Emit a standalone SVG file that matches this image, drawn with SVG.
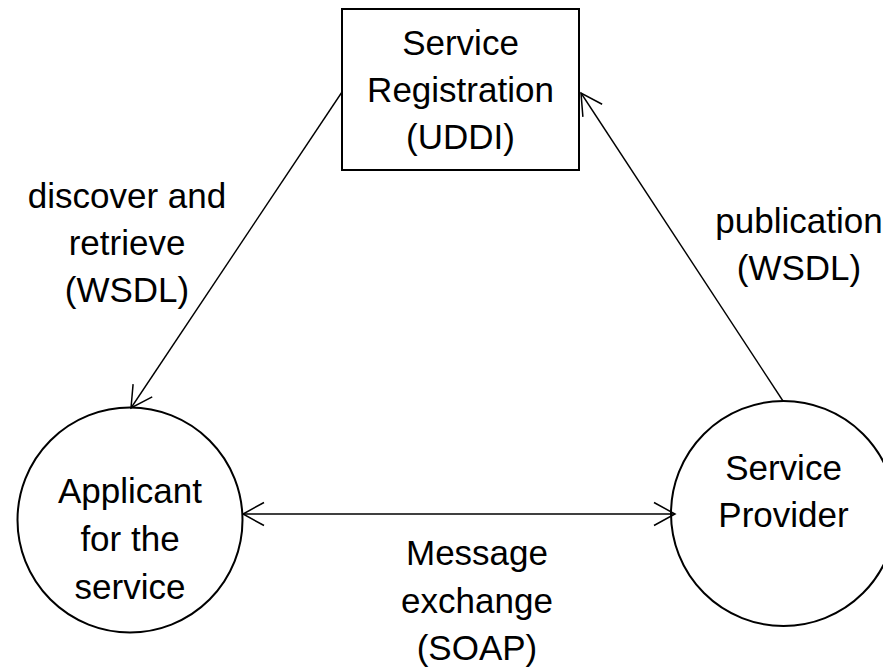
<svg xmlns="http://www.w3.org/2000/svg" width="883" height="669" viewBox="0 0 883 669">
<style>
text{font-family:"Liberation Sans",Arial,sans-serif;font-size:35px;fill:#000;text-anchor:middle}
.node{fill:#fff;stroke:#000;stroke-width:2}
.edge{fill:none;stroke:#000;stroke-width:1.4}
</style>
<defs>
<marker id="arr" markerUnits="userSpaceOnUse" markerWidth="30" markerHeight="30" viewBox="-25 -15 30 30" refX="0" refY="0" orient="auto-start-reverse" overflow="visible">
<path d="M-21,-11.5 L0,0 L-21,11.5" fill="none" stroke="#000" stroke-width="1.5"/>
</marker>
</defs>
<rect width="883" height="669" fill="#fff"/>
<g id="registry">
<rect class="node" x="342" y="9" width="237" height="161"/>
<text x="460.5" y="55">Service</text>
<text x="460.5" y="102">Registration</text>
<text x="460.5" y="149">(UDDI)</text>
</g>
<g id="applicant">
<circle class="node" cx="130" cy="520" r="112.5"/>
<text x="130" y="503">Applicant</text>
<text x="130" y="551">for the</text>
<text x="130" y="599">service</text>
</g>
<g id="provider">
<circle class="node" cx="783.5" cy="513.5" r="112.5"/>
<text x="783.5" y="480">Service</text>
<text x="783.5" y="527">Provider</text>
</g>
<g id="connectors">
<line class="edge" x1="342" y1="92" x2="131" y2="408" marker-end="url(#arr)"/>
<line class="edge" x1="783" y1="401" x2="581" y2="93" marker-end="url(#arr)"/>
<line class="edge" x1="243" y1="514" x2="675" y2="514" marker-start="url(#arr)" marker-end="url(#arr)"/>
</g>
<g id="labels">
<text x="127" y="208">discover and</text>
<text x="127" y="255">retrieve</text>
<text x="127" y="302">(WSDL)</text>
<text x="799" y="233">publication</text>
<text x="799" y="280">(WSDL)</text>
<text x="477" y="565">Message</text>
<text x="477" y="613">exchange</text>
<text x="477" y="660">(SOAP)</text>
</g>
</svg>
